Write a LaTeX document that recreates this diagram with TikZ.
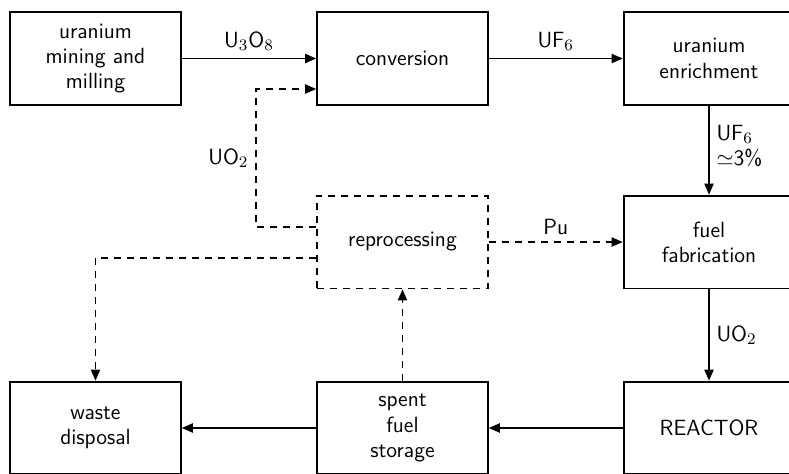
\documentclass[tikz,border=0pt]{standalone}
\usepackage{amsmath,amssymb}
\usetikzlibrary{arrows.meta,positioning,calc}

\begin{document}
\begin{tikzpicture}[
    stage/.style={draw, line width=0.9pt, minimum width=3cm, minimum height=1.63cm, align=center, font=\sffamily\fontsize{11}{12.6}\selectfont},
    dstage/.style={stage, dash pattern=on 3.5pt off 3pt},
    arr/.style={-{Triangle[length=5.5pt, width=4.5pt]}, line width=0.9pt},
    darr/.style={arr, dash pattern=on 3.5pt off 3pt},
    lbl/.style={font=\sffamily\fontsize{11}{12.6}\selectfont},
  ]
  \useasboundingbox (0,0) rectangle (13.865,8.312);

  % top row
  \node[stage] (mine) at (1.678,7.284) {uranium\\mining and\\milling};
  \node[stage] (conv) at (7.073,7.284) {conversion};
  \node[stage] (enrich) at (12.459,7.284) {uranium\\enrichment};

  % middle row
  \node[dstage] (repro) at (7.073,4.059) {reprocessing};
  \node[stage] (fab) at (12.459,4.059) {fuel\\fabrication};

  % bottom row
  \node[stage] (waste) at (1.678,0.791) {waste\\disposal};
  \node[stage] (spent) at (7.073,0.791) {spent\\fuel\\storage};
  \node[stage] (reactor) at (12.459,0.791) {REACTOR};

  \coordinate (uobend) at (4.499,6.748);

  \draw[arr] (mine) -- node[lbl, above] {U$_3$O$_8$} (conv);
  \draw[arr] (conv) -- node[lbl, above] {UF$_6$} (enrich);
  \draw[arr] (enrich) -- node[lbl, right, pos=0.45, align=left] {UF$_6$\\$\simeq$3\%} (fab);
  \draw[arr] (fab) -- node[lbl, right] {UO$_2$} (reactor);
  \draw[arr] (reactor) -- (spent);
  \draw[arr] (spent) -- (waste);

  \draw[darr] (spent) -- (repro);
  \draw[darr] (repro) -- node[lbl, above] {Pu} (fab);
  \draw[darr] ([yshift=7.5pt]repro.west) -| node[lbl, left, pos=0.75] {UO$_2$} (uobend) -- (uobend -| conv.west);
  \draw[darr] ([yshift=-8pt]repro.west) -| (waste);
\end{tikzpicture}
\end{document}
